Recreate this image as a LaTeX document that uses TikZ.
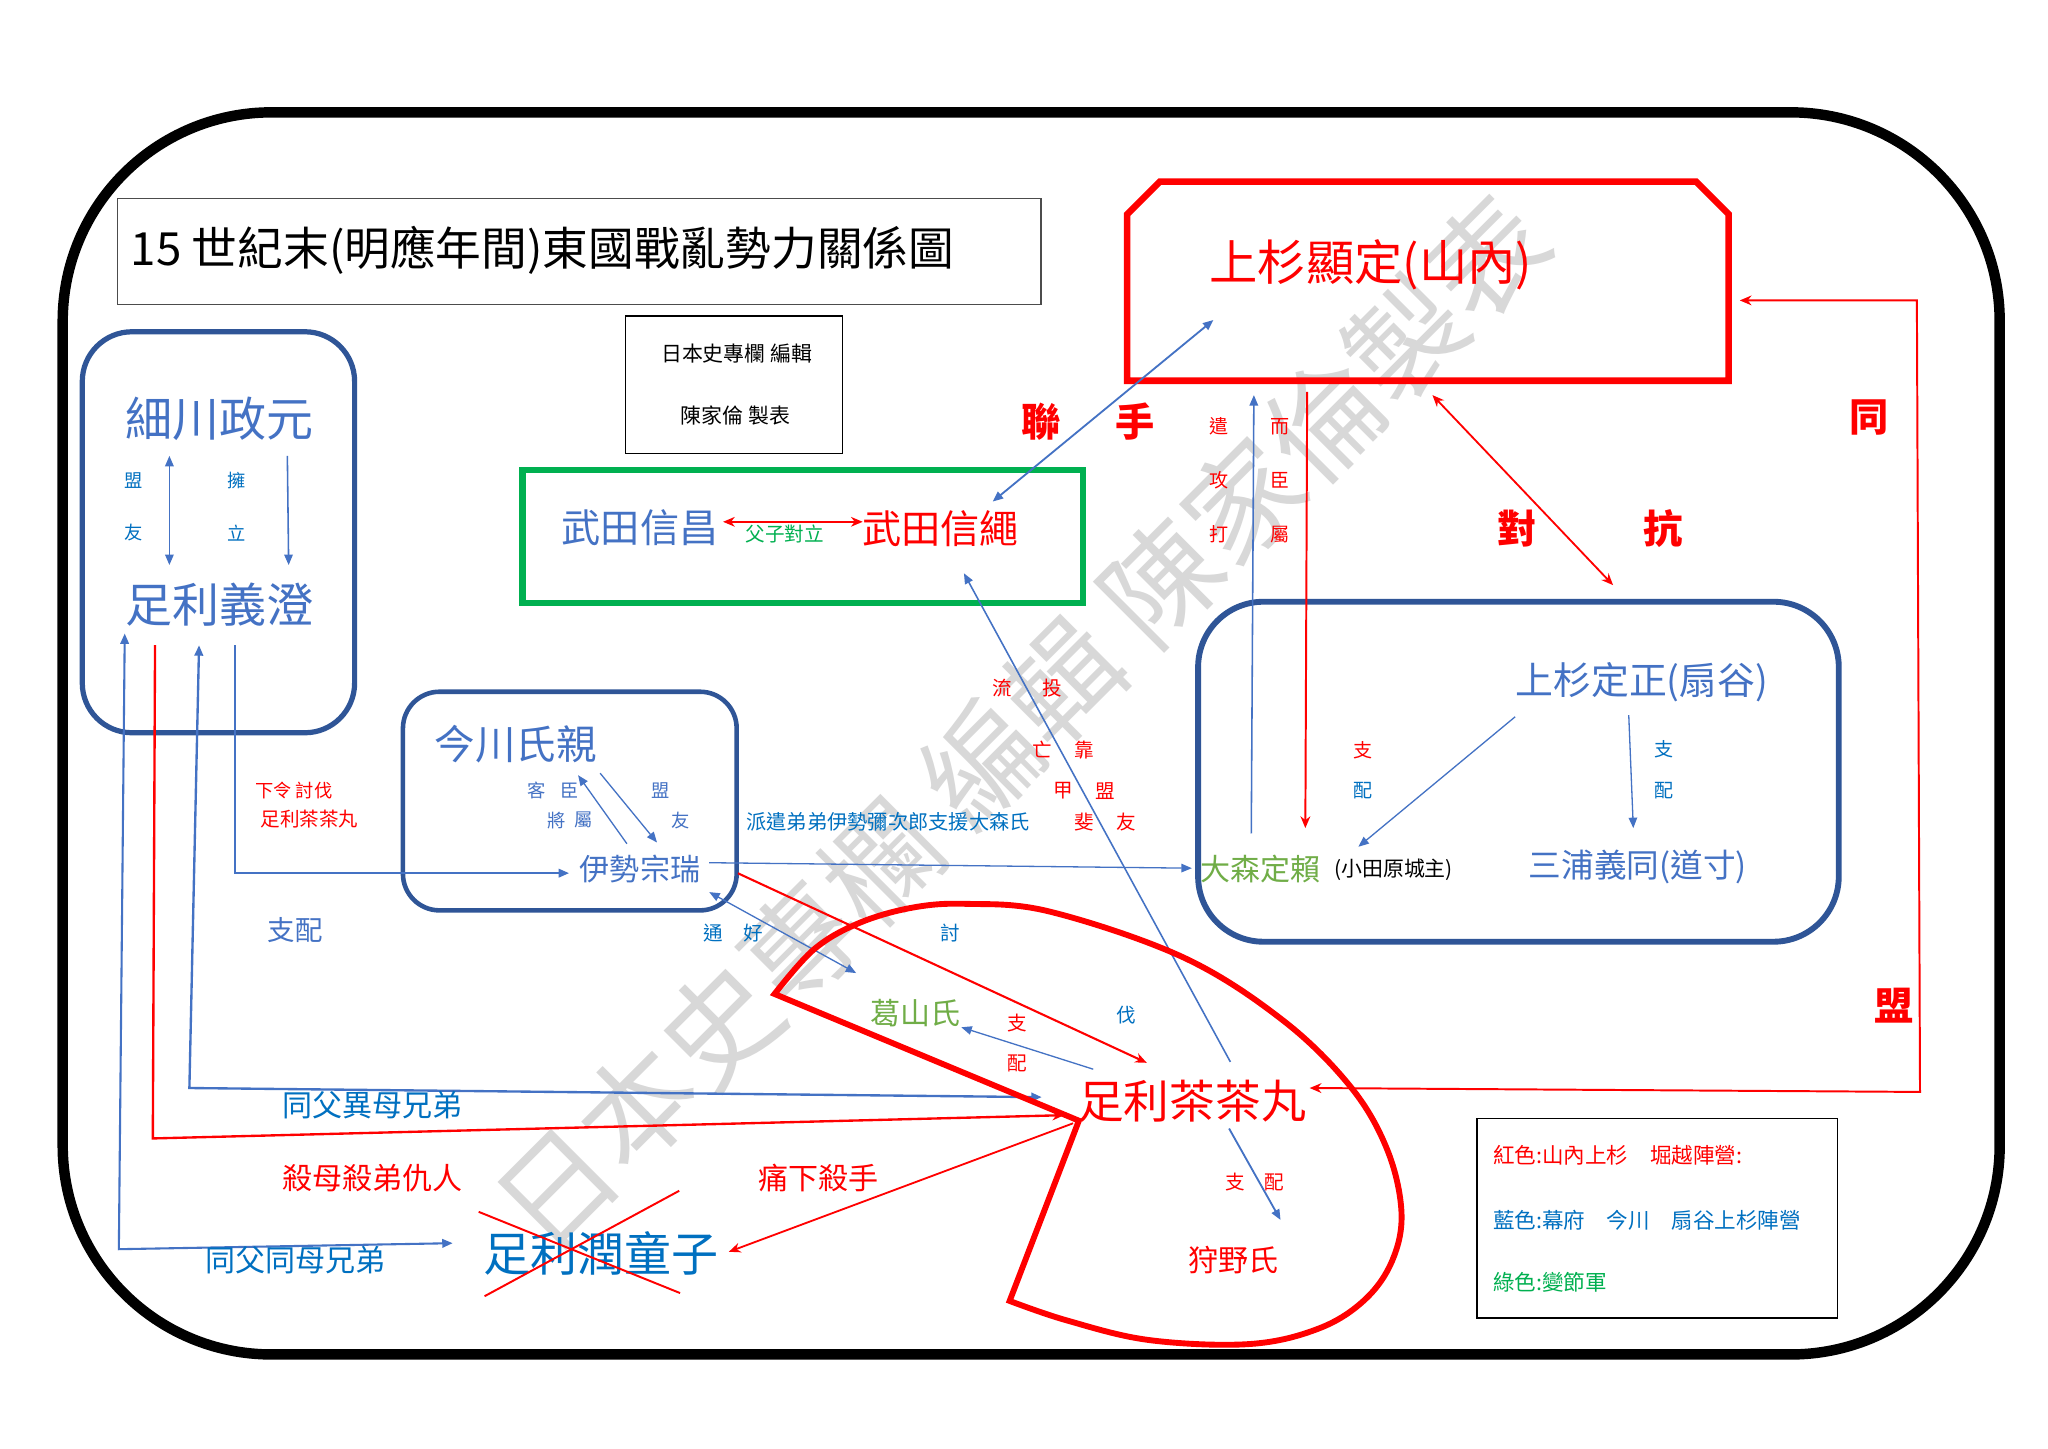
\documentclass[tikz,border=0pt]{standalone}
\usepackage{fontspec}
\newfontfamily\cjk{Noto Sans CJK TC}
\usetikzlibrary{arrows.meta}
\newcommand\fsz[1]{\fontsize{#1pt}{#1pt}\selectfont}
\definecolor{frameblue}{RGB}{47,85,151}
\definecolor{tblue}{RGB}{68,114,196}
\definecolor{lblue}{RGB}{0,112,192}
\definecolor{gbox}{RGB}{0,176,80}
\definecolor{lgreen}{RGB}{112,173,71}
\definecolor{wmgray}{RGB}{216,216,216}
\begin{document}
\begin{tikzpicture}[x=1pt,y=-1pt,
  tx/.style args={#1/#2}{inner sep=0pt, text=#1, font=\cjk\fsz{#2}},
  txb/.style args={#1/#2}{inner sep=0pt, text=#1, font=\cjk\bfseries\fsz{#2}},
  barr/.style={draw=tblue, line width=1.2pt, -{Triangle[length=8pt,width=6.5pt]}},
  barr2/.style={draw=tblue, line width=1.2pt, {Triangle[length=8pt,width=6.5pt]}-{Triangle[length=8pt,width=6.5pt]}},
  rarr/.style={draw=red, line width=1.4pt, -{Stealth[length=9pt,width=7.5pt]}},
  rarr2/.style={draw=red, line width=1.4pt, {Stealth[length=9pt,width=7.5pt]}-{Stealth[length=9pt,width=7.5pt]}},
  bbox/.style={draw=frameblue, line width=4pt}]
\useasboundingbox (0,0) rectangle (1568,1109);
\fill[white] (0,0) rectangle (1568,1109);

% watermark
\node[tx=wmgray/88, rotate=45] (wm) at (782,553) {日本史專欄 編輯 陳家倫製表};

% outer frame
\draw[line width=8pt, rounded corners=160pt] (48,86) rectangle (1531,1037);

% title
\draw[draw=black!70, line width=1pt] (90,152) rectangle (797,233);
\node[tx=black/35, anchor=west] (title) at (100,192) {15 世紀末(明應年間)東國戰亂勢力關係圖};
\draw[line width=1pt] (479,242) rectangle (645,347);
\node[tx=black/16] (ed1) at (564,271) {日本史專欄 編輯};
\node[tx=black/16] (ed2) at (563,318) {陳家倫 製表};

% Hosokawa box
\draw[bbox, rounded corners=38pt] (63,254) rectangle (271.5,561);
\node[tx=tblue/36] (hoso) at (168,321) {細川政元};
\node[tx=tblue/36] (yoshi) at (168,463) {足利義澄};
\node[tx=lblue/14] (hm1) at (102,368) {盟};
\node[tx=lblue/14] (hm2) at (102,408) {友};
\node[tx=lblue/14] (hy1) at (181.5,368) {擁};
\node[tx=lblue/14] (hy2) at (181.5,408) {立};
\coordinate (h1a) at (129.7,349); \coordinate (h1b) at (129.7,432.6);
\coordinate (h2a) at (220,349);   \coordinate (h2b) at (221,432.6);
\draw[barr2] (h1a) -- (h1b);
\draw[barr] (h2a) -- (h2b);

% Takeda box
\draw[draw=gbox, line width=5pt] (400,360) rectangle (829,461.5);
\node[tx=tblue/30] (nmasa) at (490,404) {武田信昌};
\node[tx=red/30] (ntsuna) at (720,404.5) {武田信繩};
\node[tx=gbox/15] (fushi) at (601,409) {父子對立};
\coordinate (tk1) at (553.6,399.5); \coordinate (tk2) at (660.5,399.5);
\draw[rarr2, line width=1.2pt] (tk1) -- (tk2);

% Uesugi Akisada box
\draw[draw=red, line width=5pt, line join=miter] (863,164) -- (888,139) -- (1298.5,139) -- (1323.5,164) -- (1323.5,291.5) -- (863,291.5) -- cycle;
\node[tx=red/37] (aki) at (1049.5,203) {上杉顯定(山內)};

% Uesugi Sadamasa box
\draw[bbox, line width=4.5pt, rounded corners=50pt] (917.3,460.7) rectangle (1407.8,721);
\node[tx=tblue/29] (sada) at (1257,522) {上杉定正(扇谷)};
\node[tx=lgreen/23] (omori) at (965,665) {大森定賴};
\node[tx=black/16] (odawara) at (1067,666) {(小田原城主)};
\node[tx=tblue/25] (miura) at (1254,664) {三浦義同(道寸)};
\node[tx=red/14.6] (sd1) at (1043.7,574.3) {支};
\node[tx=lblue/14.6] (sd2) at (1043.7,605) {配};
\node[tx=lblue/14.6] (sd3) at (1273.7,574) {支};
\node[tx=lblue/14.6] (sd4) at (1273.7,605) {配};
\coordinate (s1a) at (1160,548.8); \coordinate (s1b) at (1040,648.3);
\coordinate (s2a) at (1247,547.5); \coordinate (s2b) at (1250.5,634);
\draw[barr, line width=1pt] (s1a) -- (s1b);
\draw[barr, line width=1pt] (s2a) -- (s2b);

% Imagawa box
\draw[bbox, line width=3.5pt, rounded corners=28pt] (308.5,529.6) rectangle (564,697);
\node[tx=tblue/31] (ima) at (395,570) {今川氏親};
\node[tx=tblue/23] (ise) at (490,665) {伊勢宗瑞};
\node[tx=tblue/14] (ik1) at (411,605) {客};
\node[tx=tblue/14] (ik2) at (436,605) {臣};
\node[tx=tblue/14] (ik3) at (426,628) {將};
\node[tx=tblue/14] (ik4) at (447,628) {屬};
\node[tx=tblue/14] (ik5) at (505.5,605) {盟};
\node[tx=tblue/14] (ik6) at (521,628) {友};
\coordinate (i1a) at (480,646); \coordinate (i1b) at (442.6,593.5);
\coordinate (i2a) at (459.5,592); \coordinate (i2b) at (503,645);
\draw[barr, line width=1pt] (i1a) -- (i1b);
\draw[barr, line width=1pt] (i2a) -- (i2b);

% main nodes lower
\node[tx=lgreen/23] (katsu) at (701,776) {葛山氏};
\node[tx=red/35] (chacha) at (913,843) {足利茶茶丸};
\node[tx=red/23] (kano) at (944.5,965) {狩野氏};
\node[tx=lblue/36] (jundo) at (460,960) {足利潤童子};

% Yoshizumi connectors
\coordinate (y1) at (180,494); \coordinate (y1c) at (180,668.5); \coordinate (y1e) at (435.7,668.5);
\draw[barr, line width=1.6pt] (y1) -- (y1c) -- (y1e);
\node[tx=red/14] (ord1) at (225,605) {下令 討伐};
\node[tx=red/15] (ord2) at (237,627.4) {足利茶茶丸};
\node[tx=tblue/21] (shihai) at (226,712) {支配};

\coordinate (y2) at (95.5,485); \coordinate (y2c) at (91,956.4); \coordinate (y2e) at (346.6,951.8);
\draw[barr2, line width=1.6pt] (y2) -- (y2c) -- (y2e);
\coordinate (y3) at (152.4,494); \coordinate (y3c) at (145,833); \coordinate (y3e) at (797.6,840);
\draw[barr2, line width=1.8pt] (y3) -- (y3c) -- (y3e);
\coordinate (y4) at (118.7,494); \coordinate (y4c) at (117,871.6); \coordinate (y4e) at (814.7,853.8);
\draw[rarr, line width=1.8pt] (y4) -- (y4c) -- (y4e);
\node[tx=lblue/23] (rel1) at (285,846) {同父異母兄弟};
\node[tx=red/23] (rel2) at (285,902) {殺母殺弟仇人};
\node[tx=lblue/23] (rel3) at (226,965) {同父同母兄弟};

% Ise connectors
\coordinate (is1) at (543,660.5); \coordinate (om1) at (912.5,664.7);
\draw[barr, line width=1pt] (is1) -- (om1);
\node[tx=lblue/15.5] (haken) at (680,629) {派遣弟弟伊勢彌次郎支援大森氏};
\coordinate (is2) at (565,668.6); \coordinate (ch1) at (878,813.7);
\draw[rarr, line width=1.6pt] (is2) -- (ch1);
\node[tx=lblue/15] (tou) at (727.5,714.6) {討};
\node[tx=lblue/15] (batsu) at (862,777) {伐};
\coordinate (is3) at (543,683); \coordinate (ka1) at (655.5,745);
\draw[barr2, line width=1pt] (is3) -- (ka1);
\node[tx=lblue/15] (tsu) at (546.4,714.6) {通};
\node[tx=lblue/15] (kou) at (577,714.6) {好};

% Chachamaru connectors
\coordinate (ch2) at (837,818.6); \coordinate (ka2) at (736,786.5);
\draw[barr, line width=1pt] (ch2) -- (ka2);
\node[tx=red/15] (ks1) at (778.7,783.6) {支};
\node[tx=red/15] (ks2) at (778.7,814) {配};

\coordinate (ch3) at (942,813); \coordinate (nt1) at (738,438.9);
\draw[barr, line width=1.2pt] (ch3) -- (nt1);
\node[tx=red/15] (r1) at (767,527) {流};
\node[tx=red/15] (r2) at (805.5,527) {投};
\node[tx=red/15] (r3) at (798,574) {亡};
\node[tx=red/15] (r4) at (830.5,574) {靠};
\node[tx=red/15] (r5) at (814,605.4) {甲};
\node[tx=red/15] (r6) at (846,605.4) {盟};
\node[tx=red/15] (r7) at (830.5,629) {斐};
\node[tx=red/15] (r8) at (862,629) {友};

\coordinate (nt2) at (760,384); \coordinate (ak1) at (929,245);
\draw[barr2, line width=1.4pt] (nt2) -- (ak1);
\node[txb=red/30] (ren) at (797,323) {聯};
\node[txb=red/30] (te) at (869,323) {手};

\coordinate (om2) at (958,638); \coordinate (ak2) at (960,302.5);
\draw[barr, line width=1.2pt] (om2) -- (ak2);
\coordinate (ak3) at (1000.8,300); \coordinate (om3) at (999.4,634);
\draw[rarr, line width=1.5pt] (ak3) -- (om3);
\node[tx=red/14.6] (k1) at (933,326.7) {遣};
\node[tx=red/14.6] (k2) at (933,367.5) {攻};
\node[tx=red/14.6] (k3) at (933,409) {打};
\node[tx=red/14.6] (k4) at (980,326.7) {而};
\node[tx=red/14.6] (k5) at (980,367.5) {臣};
\node[tx=red/14.6] (k6) at (980,409) {屬};

\coordinate (ak4) at (1096.7,302.5); \coordinate (sd5) at (1235,448);
\draw[rarr2, line width=1.4pt] (ak4) -- (sd5);
\node[txb=red/30] (tai) at (1161.6,404.5) {對};
\node[txb=red/30] (kou2) at (1273,404.5) {抗};

\coordinate (ch4) at (1002.7,833); \coordinate (rc1) at (1470,836); \coordinate (rc2) at (1467.6,230); \coordinate (ak5) at (1332,230);
\draw[rarr2, line width=1.5pt] (ch4) -- (rc1) -- (rc2) -- (ak5);
\node[txb=red/30] (dou) at (1430.7,320) {同};
\node[txb=red/30] (mei) at (1450,770) {盟};

\coordinate (ch5) at (941,864); \coordinate (kn1) at (980.4,934);
\draw[barr, line width=1.4pt] (ch5) -- (kn1);
\node[tx=red/15] (kp1) at (946,905) {支};
\node[tx=red/15] (kp2) at (975.4,905) {配};

\coordinate (ch6) at (821.6,860); \coordinate (jd1) at (558,958.4);
\draw[rarr, line width=1.4pt] (ch6) -- (jd1);
\node[tx=red/23] (itai) at (627,902) {痛下殺手};

% cross over Jundoshi
\draw[red, line width=1.5pt] (366.5,927.8) -- (520.7,990);
\draw[red, line width=1.5pt] (371,992.4) -- (520,911.7);

% pie shape
\draw[red, line width=4.5pt, line join=miter] (826,858) -- (593,761) -- plot[smooth, tension=0.6] coordinates {(593,761) (623,727) (657,707) (698,695) (740,692) (804,698) (906,733) (982,781) (1034,832) (1062,880) (1073,928) (1066,965) (1045,995) (1010,1017) (957,1029) (880,1026) (817,1011) (773,996)} -- cycle;

% legend
\draw[line width=1pt] (1130.7,856.3) rectangle (1407,1009);
\node[tx=red/16.5, anchor=west] (lg1) at (1143,884.4) {紅色:山內上杉　堀越陣營:};
\node[tx=lblue/16.5, anchor=west] (lg2) at (1143,934) {藍色:幕府　今川　扇谷上杉陣營};
\node[tx=gbox/16.5, anchor=west] (lg3) at (1143,981.4) {綠色:變節軍};
\end{tikzpicture}
\end{document}
